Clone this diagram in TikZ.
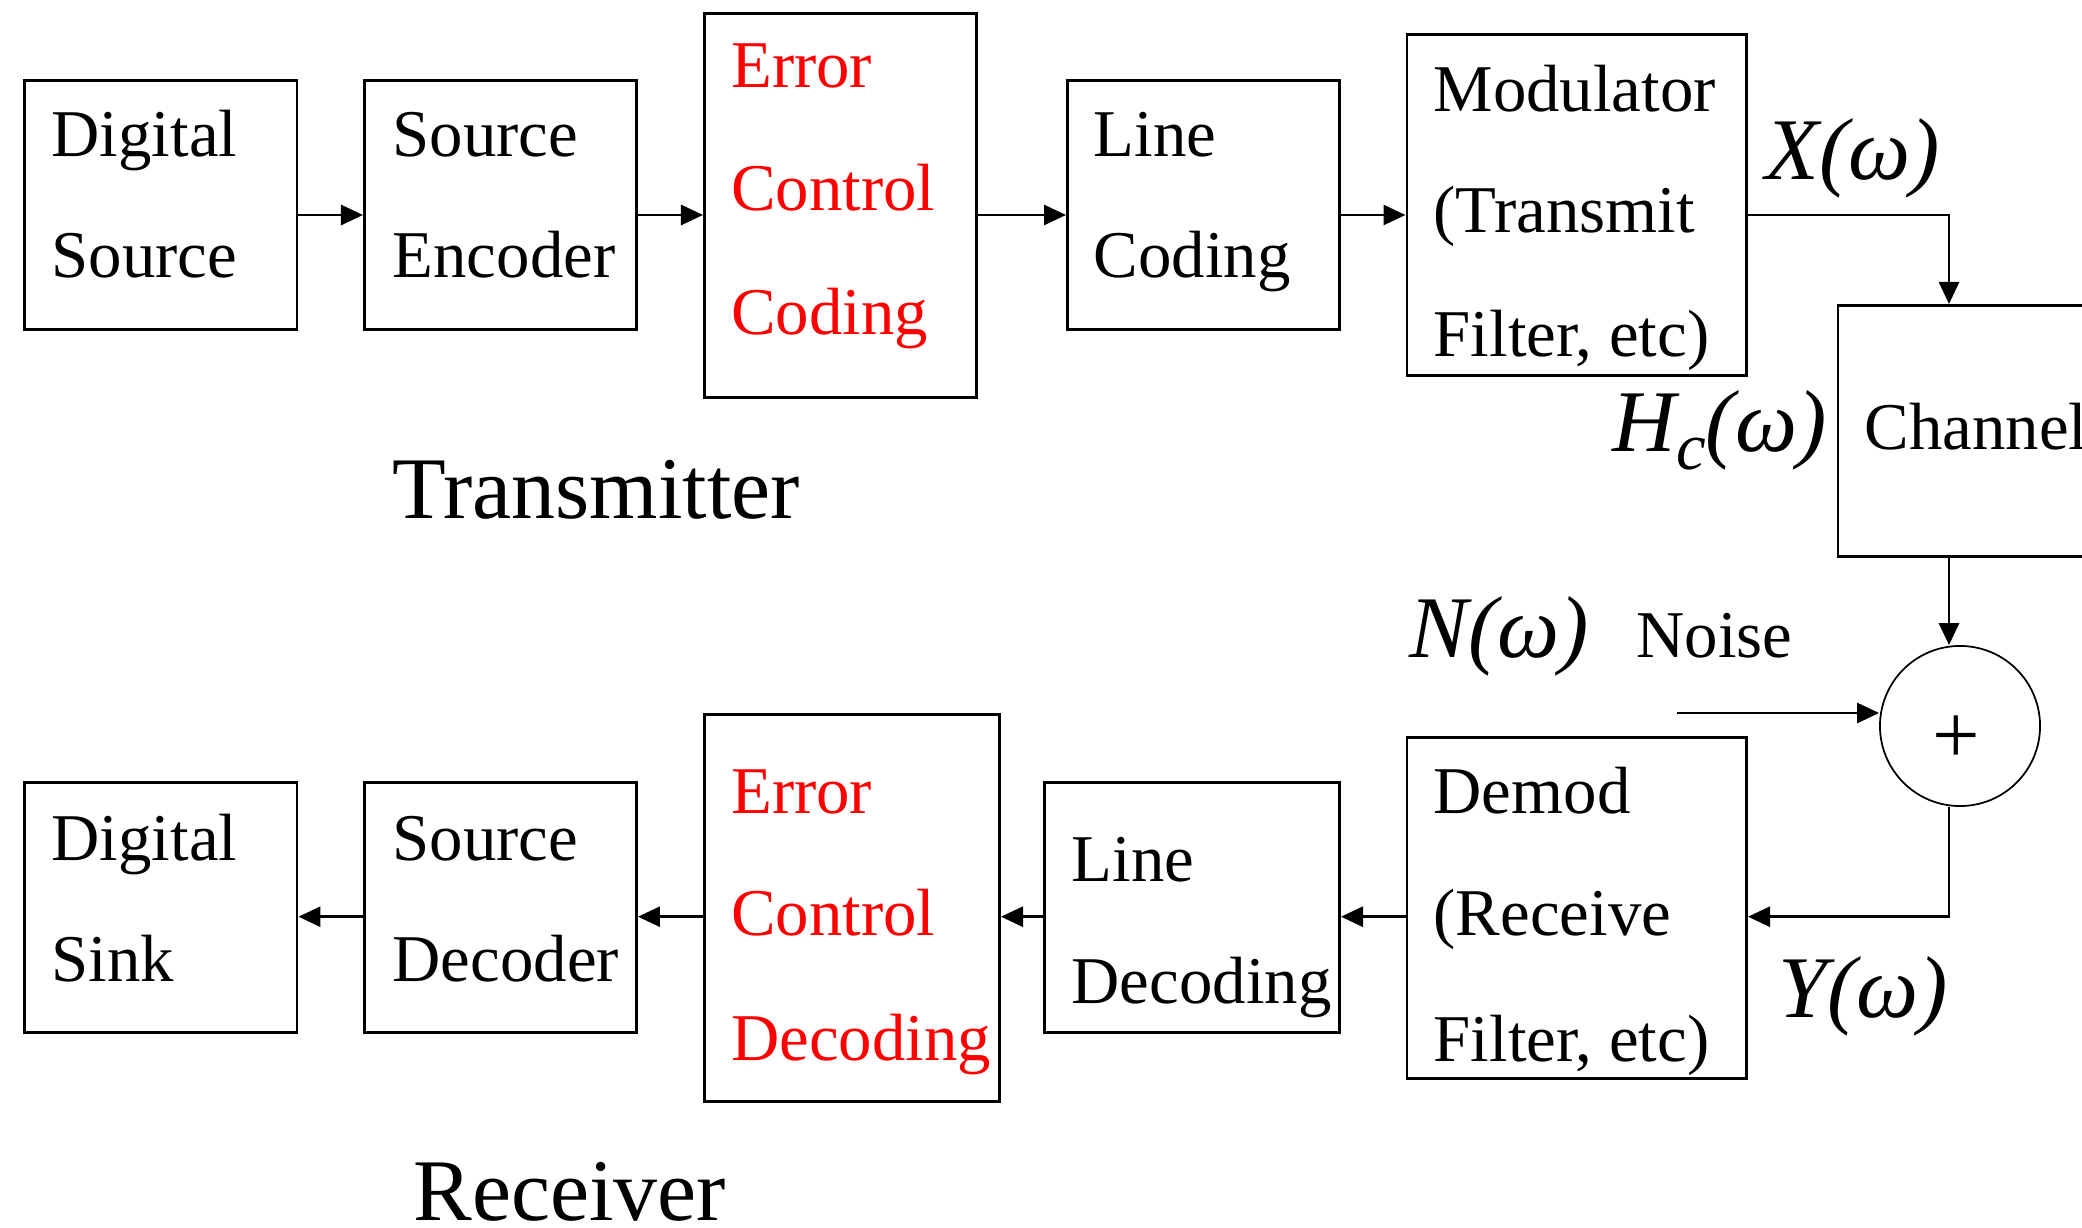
\documentclass[tikz,border=0pt]{standalone}
\usepackage{fontspec}
\setmainfont{Liberation Serif}
\usetikzlibrary{arrows.meta}
\begin{document}
\begin{tikzpicture}[x=0.01cm,y=-0.01cm,
  box/.style={draw, line width=0.8pt, inner sep=0pt, anchor=north west},
  lbl/.style={anchor=base west, inner sep=0pt, font=\fontsize{19}{23}\selectfont},
  big/.style={anchor=base west, inner sep=0pt, font=\fontsize{25}{30}\selectfont},
  mth/.style={anchor=base west, inner sep=0pt, font=\fontsize{25}{30}\selectfont\itshape},
  redt/.style={text=red},
  conn/.style={line width=0.8pt, -{Triangle[length=2.2mm,width=2mm]}}]
\useasboundingbox (0,0) rectangle (2082,1228);
\clip (0,0) rectangle (2082,1228);
% helper coordinates
\coordinate (topline) at (0,215);
\coordinate (botline) at (0,916.7);
\coordinate (cx) at (1949,0);
\coordinate (nstart) at (1677,713);
% top row boxes
\node[box, minimum width=2.725cm, minimum height=2.49cm] (dsrc) at (23,79) {};
\node[box, minimum width=2.72cm, minimum height=2.49cm] (senc) at (363,79) {};
\node[box, minimum width=2.72cm, minimum height=3.84cm] (ecc) at (703,12) {};
\node[box, minimum width=2.72cm, minimum height=2.49cm] (lcod) at (1066,79) {};
\node[box, minimum width=3.395cm, minimum height=3.405cm] (mod) at (1405.5,33) {};
\node[box, minimum width=2.8cm, minimum height=2.51cm] (chan) at (1836.5,304) {};
\node[draw, circle, line width=0.5pt, minimum size=1.6cm, inner sep=0pt] (sum) at (1960,726) {};
% bottom row boxes
\node[box, minimum width=3.395cm, minimum height=3.41cm] (demod) at (1405.5,736) {};
\node[box, minimum width=2.95cm, minimum height=2.5cm] (ldec) at (1043,781) {};
\node[box, minimum width=2.95cm, minimum height=3.865cm] (ecd) at (703,713) {};
\node[box, minimum width=2.72cm, minimum height=2.5cm] (sdec) at (363,781) {};
\node[box, minimum width=2.725cm, minimum height=2.5cm] (dsink) at (23,781) {};
% box texts
\node[lbl] (dsrc1) at (51,156.6) {Digital};
\node[lbl] (dsrc2) at (51,278) {Source};
\node[lbl] (senc1) at (392,156.6) {Source};
\node[lbl] (senc2) at (392,278) {Encoder};
\node[lbl,redt] (ecc1) at (730.5,88) {Error};
\node[lbl,redt] (ecc2) at (730.5,210.3) {Control};
\node[lbl,redt] (ecc3) at (730.5,334.8) {Coding};
\node[lbl] (lcod1) at (1093,156.6) {Line};
\node[lbl] (lcod2) at (1093,278) {Coding};
\node[lbl] (mod1) at (1433,111.6) {Modulator};
\node[lbl] (mod2) at (1433,233) {(Transmit};
\node[lbl] (mod3) at (1433,357) {Filter, etc)};
\node[lbl] (chan1) at (1864,450) {Channel};
\node[lbl] (dsink1) at (51,860) {Digital};
\node[lbl] (dsink2) at (51,981) {Sink};
\node[lbl] (sdec1) at (392,860) {Source};
\node[lbl] (sdec2) at (392,981) {Decoder};
\node[lbl,redt] (ecd1) at (730.5,813.7) {Error};
\node[lbl,redt] (ecd2) at (730.5,935) {Control};
\node[lbl,redt] (ecd3) at (730.5,1060) {Decoding};
\node[lbl] (ldec1) at (1071,881.4) {Line};
\node[lbl] (ldec2) at (1071,1003.6) {Decoding};
\node[lbl] (demod1) at (1433,813.7) {Demod};
\node[lbl] (demod2) at (1433,935) {(Receive};
\node[lbl] (demod3) at (1433,1061) {Filter, etc)};
% free labels
\node[big] (tx) at (392,519) {Transmitter};
\node[big] (rx) at (413,1220) {Receiver};
\node[mth] (xw) at (1765,180) {X(ω)};
\node[mth] (hw) at (1612,452) {H\raisebox{-5pt}{\fontsize{19}{23}\selectfont c}(ω)};
\node[mth] (nw) at (1409,657) {N(ω)};
\node[lbl] (noise) at (1636,657) {Noise};
\node[mth] (yw) at (1778,1017) {Y(ω)};
\node[inner sep=0pt, font=\fontsize{24}{28}\selectfont] (plus) at (1956,740) {+};
% connectors top
\draw[conn] (dsrc.east |- topline) -- (senc.west |- topline);
\draw[conn] (senc.east |- topline) -- (ecc.west |- topline);
\draw[conn] (ecc.east |- topline) -- (lcod.west |- topline);
\draw[conn] (lcod.east |- topline) -- (mod.west |- topline);
\draw[conn] (mod.east |- topline) -| (chan.north -| cx);
\draw[conn] (chan.south -| cx) -- (sum.north -| cx);
\draw[conn] (nstart) -- (nstart -| sum.west);
\draw[conn] (sum.south -| cx) |- (demod.east |- botline);
% connectors bottom
\draw[conn] (demod.west |- botline) -- (ldec.east |- botline);
\draw[conn] (ldec.west |- botline) -- (ecd.east |- botline);
\draw[conn] (ecd.west |- botline) -- (sdec.east |- botline);
\draw[conn] (sdec.west |- botline) -- (dsink.east |- botline);
\end{tikzpicture}
\end{document}
